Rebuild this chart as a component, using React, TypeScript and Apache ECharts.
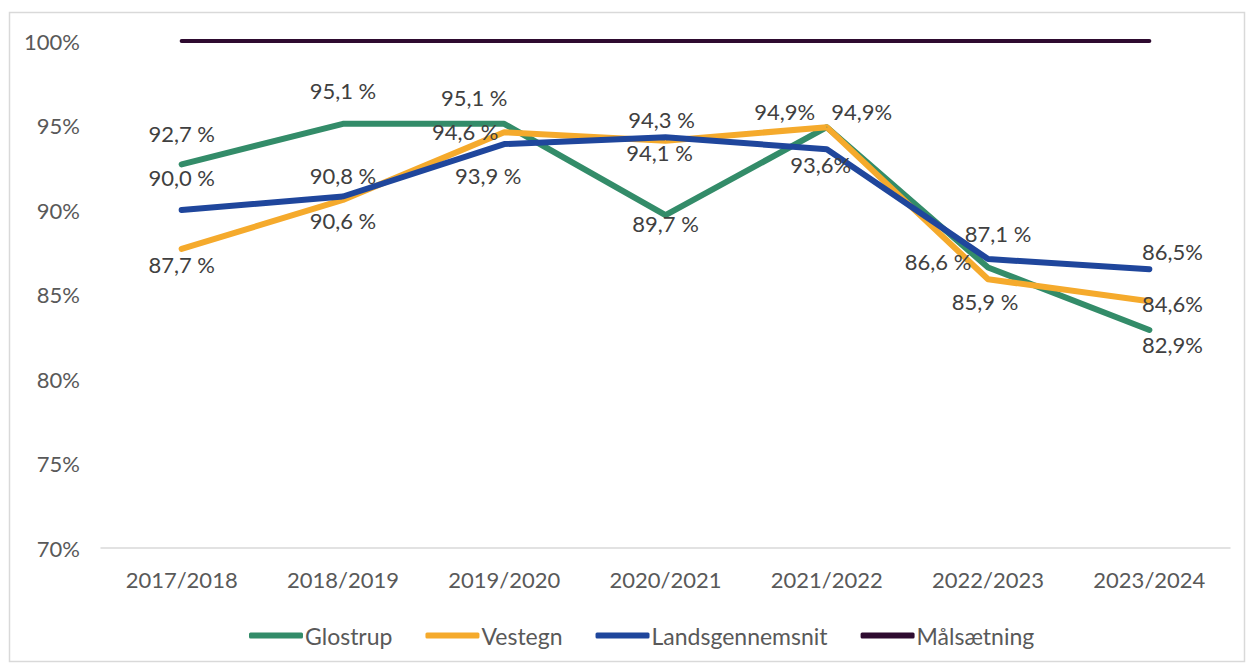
import React, { useEffect, useRef } from "react";
import * as echarts from "echarts";

const categories = ["2017/2018", "2018/2019", "2019/2020", "2020/2021", "2021/2022", "2022/2023", "2023/2024"];
const glostrup = [92.7, 95.1, 95.1, 89.7, 94.9, 86.6, 82.9];
const vestegn = [87.7, 90.6, 94.6, 94.1, 94.9, 85.9, 84.6];
const landsgennemsnit = [90.0, 90.8, 93.9, 94.3, 93.6, 87.1, 86.5];
const maalsaetning = [100, 100, 100, 100, 100, 100, 100];
const noSpaceIdx = [4, 6];

// label layout (pixel offsets of label centre from the point)
const glostrupOffsets = [[0, -31], [0, -33], [-30, -26], [0, 8], [-42, -16], [-50, -6], [23, 15]];
const vestegnOffsets = [[0, 16], [0, 21], [-39, -1], [-6, 12], [35, -16], [-3, 22], [23, 2]];
const landsOffsets = [[0, -33], [0, -21], [-16, 31], [-4, -18], [-6, 15], [10, -26], [23, -18]];

const FONT = "Lato";
const fmt = (v: number, i: number) =>
  v.toFixed(1).replace(".", ",") + (noSpaceIdx.includes(i) ? "%" : " %");

function withLabels(values: number[], offsets: number[][]) {
  return values.map((v, i) => ({ value: v, label: { offset: offsets[i] } }));
}

export default function App() {
  const ref = useRef<HTMLDivElement>(null);
  useEffect(() => {
    if (!ref.current) return;
    const chart = echarts.init(ref.current, null, { renderer: "svg" });
    const labelCfg = {
      show: true,
      position: "inside",
      fontFamily: FONT,
      fontSize: 22,
      color: "#404040",
      formatter: (p: any) => fmt(p.value, p.dataIndex),
    };
    const lineSeries = (name: string, data: any[], color: string, withLabel: boolean, width = 6) => ({
      name,
      type: "line",
      data,
      symbol: "circle",
      symbolSize: 1,
      showSymbol: true,
      itemStyle: { color },
      lineStyle: { color, width, cap: "round", join: "round" },
      label: withLabel ? labelCfg : { show: false },
      emphasis: { disabled: true },
      z: 2,
    });
    chart.setOption({
      animation: false,
      backgroundColor: "#ffffff",
      graphic: [
        {
          type: "rect",
          shape: { x: 9.5, y: 12.5, width: 1235, height: 649 },
          style: { fill: "none", stroke: "#d9d9d9", lineWidth: 1.5 },
          silent: true,
        },
      ],
      grid: { left: 101, right: 18, top: 41, bottom: 116 },
      xAxis: {
        type: "category",
        data: categories,
        boundaryGap: true,
        axisLine: { lineStyle: { color: "#d9d9d9", width: 1.5 } },
        axisTick: { show: false },
        axisLabel: { color: "#595959", fontFamily: FONT, fontSize: 22, margin: 20 },
      },
      yAxis: {
        type: "value",
        min: 70,
        max: 100,
        interval: 5,
        axisLine: { show: false },
        axisTick: { show: false },
        splitLine: { show: false },
        axisLabel: {
          color: "#595959",
          fontFamily: FONT,
          fontSize: 22,
          margin: 21,
          formatter: (v: number) => `${v}%`,
        },
      },
      legend: {
        data: ["Glostrup", "Vestegn", "Landsgennemsnit", "Målsætning"],
        left: 244,
        top: 619,
        icon: "roundRect",
        itemWidth: 54,
        itemHeight: 6,
        itemGap: 33,
        textStyle: { color: "#595959", fontFamily: FONT, fontSize: 23, padding: [0, 0, 0, -3] },
      },
      series: [
        lineSeries("Glostrup", withLabels(glostrup, glostrupOffsets), "#338c69", true),
        lineSeries("Vestegn", withLabels(vestegn, vestegnOffsets), "#f5aa2c", true),
        lineSeries("Landsgennemsnit", withLabels(landsgennemsnit, landsOffsets), "#1f469c", true),
        lineSeries("Målsætning", maalsaetning, "#2e0b30", false, 4),
      ],
    });
    return () => chart.dispose();
  }, []);
  return (
    <div
      ref={ref}
      style={{ position: "absolute", left: 0, top: 0, width: 1248, height: 664 }}
    />
  );
}
